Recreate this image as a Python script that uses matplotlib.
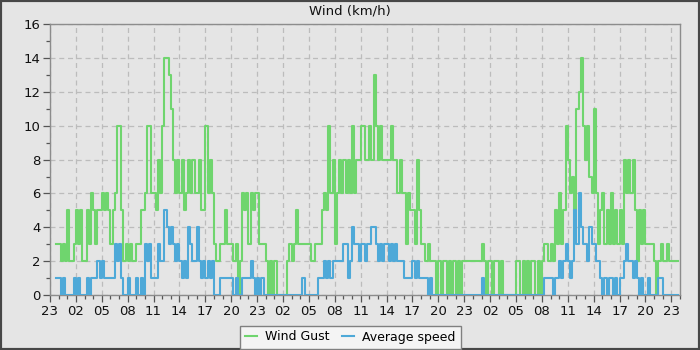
import numpy as np
import matplotlib
matplotlib.use('Agg')
import matplotlib.pyplot as plt
from matplotlib.patches import Rectangle

nan = np.nan

# Wind gust (km/h), 15-minute samples, starting 23:00 of day 1
gust = [
    nan, nan, nan, 3,   3, 2, 3, 2,   5, 2, 2, 3,   5, 3, 5, 2,
    2, 5, 3, 6,   5, 3, 5, 5,   6, 5, 6, 5,   3, 5, 6, 10,
    10, 5, 2, 3,   2, 3, 2, 2,   3, 3, 5, 5,   6, 10, 10, 6,
    6, 5, 8, 6,   10, 14, 14, 13,   11, 8, 6, 8,   6, 8, 5, 6,
    8, 6, 8, 6,   6, 8, 5, 5,   10, 6, 8, 6,   3, 2, 2, 3,
    3, 5, 3, 3,   3, 2, 3, 0,   2, 6, 5, 6,   3, 6, 5, 6,
    6, 3, 3, 3,   2, 0, 2, 0,   2, 0, 0, 0,   0, 0, 2, 3,
    2, 3, 5, 3,   3, 3, 3, 3,   3, 2, 2, 3,   3, 3, 5, 6,
    5, 10, 6, 8,   3, 6, 8, 6,   8, 6, 8, 6,   10, 6, 8, 8,
    10, 10, 8, 8,   10, 8, 13, 10,   8, 10, 8, 8,   8, 8, 10, 8,
    8, 6, 8, 6,   6, 3, 6, 5,   5, 3, 8, 5,   3, 3, 2, 3,
    2, 2, 2, 0,   2, 0, 2, 2,   0, 2, 0, 2,   0, 2, 0, 2,
    2, 2, 2, 2,   2, 2, 2, 2,   3, 2, 0, 2,   2, 0, 2, 2,
    0, 2, 0, 0,   0, 0, 0, 0,   2, 2, 0, 2,   0, 2, 0, 2,
    2, 0, 2, 0,   2, 3, 3, 2,   3, 2, 5, 3,   6, 3, 5, 10,
    8, 6, 7, 5,   11, 12, 14, 10,   8, 10, 7, 6,   11, 6, 3, 5,
    6, 3, 5, 3,   6, 3, 5, 3,   5, 3, 8, 6,   8, 6, 8, 5,
    2, 5, 3, 5,   3, 3, 3, 3,   2, 0, 2, 3,   2, 2, 3, 2,
    2, 2, 2, 2,
]

# Average wind speed (km/h), same sampling
avg = [
    nan, nan, nan, 1,   1, 0, 1, 0,   0, 0, 0, 1,   0, 1, 0, 0,
    0, 1, 0, 1,   1, 1, 2, 1,   2, 1, 1, 1,   1, 1, 3, 2,
    3, 1, 0, 0,   1, 0, 0, 0,   1, 0, 1, 0,   3, 2, 3, 1,
    1, 1, 3, 2,   2, 5, 4, 3,   4, 3, 2, 3,   2, 1, 2, 1,
    4, 3, 2, 2,   4, 2, 1, 2,   1, 2, 1, 2,   0, 0, 0, 1,
    1, 1, 1, 1,   1, 0, 1, 0,   0, 1, 1, 1,   1, 2, 1, 0,
    1, 0, 1, 0,   0, 0, 0, 0,   0, 0, 0, 0,   0, 0, 0, 0,
    0, 0, 0, 0,   0, 1, 0, 0,   0, 0, 0, 0,   1, 1, 1, 2,
    1, 2, 1, 2,   2, 2, 2, 2,   3, 3, 1, 2,   4, 3, 3, 2,
    3, 3, 2, 3,   3, 4, 4, 3,   2, 3, 2, 3,   3, 2, 3, 2,
    3, 2, 2, 2,   1, 1, 1, 1,   2, 1, 2, 1,   1, 1, 1, 0,
    1, 0, 0, 0,   0, 0, 0, 0,   0, 0, 0, 0,   0, 0, 0, 0,
    0, 0, 0, 0,   0, 0, 0, 0,   1, 0, 0, 0,   0, 0, 0, 0,
    0, 0, 0, 0,   0, 0, 0, 0,   0, 0, 0, 0,   0, 0, 0, 0,
    0, 0, 0, 0,   0, 1, 1, 1,   1, 0, 1, 1,   2, 1, 2, 3,
    2, 1, 2, 5,   3, 6, 4, 3,   3, 2, 4, 3,   3, 2, 2, 1,
    0, 1, 0, 1,   1, 0, 1, 0,   1, 1, 2, 3,   2, 2, 1, 2,
    1, 0, 1, 0,   0, 1, 0, 0,   0, 0, 1, 1,   0, 0, 0, 0,
    0, 0, 0, 0,
]

x_labels = ['23', '02', '05', '08', '11', '14', '17', '20'] * 3 + ['23']
samples_per_hour = 4
total_hours = 73

t = np.arange(len(gust)) / samples_per_hour

W, H = 700, 350
bg = '#e5e5e5'
fig = plt.figure(figsize=(W / 100, H / 100), dpi=100, facecolor=bg)
ax = fig.add_axes([50 / W, 55 / H, 630 / W, 270.7 / H])
ax.set_facecolor(bg)

green = '#6fd56e'
blue = '#4ea9d8'
ax.step(t, gust, where='post', color=green, lw=1.5, label='Wind Gust', zorder=3)
ax.step(t, avg, where='post', color=blue, lw=1.5, label='Average speed', zorder=4)

ax.set_xlim(0, total_hours)
ax.set_ylim(0, 16)
ax.set_xticks(np.arange(0, 73, 3))
ax.set_xticklabels(x_labels)
ax.set_xticks(np.arange(0, total_hours + 1, 1), minor=True)
ax.set_yticks(np.arange(0, 17, 2))
ax.set_yticks(np.arange(0, 17, 1), minor=True)

ax.grid(True, which='major', ls=(0, (4, 3)), color='#bcbcbc', lw=0.9, zorder=0)
ax.set_axisbelow(True)
for s in ax.spines.values():
    s.set_color('#8c8c8c')
    s.set_linewidth(1.0)
ax.tick_params(which='major', direction='out', length=5, width=0.9, color='#555555',
               labelsize=9.5, labelcolor='#111111', pad=2)
ax.tick_params(which='minor', direction='out', length=3, width=0.9, color='#555555')

fig.text(0.5, 1 - 11 / H, 'Wind (km/h)', ha='center', va='center', fontsize=9.5, color='#111111')

leg = fig.legend(loc='center', bbox_to_anchor=(350.5 / W, 1 - 337 / H), ncol=2,
                 frameon=True, fancybox=False, edgecolor='#808080', facecolor='#f4f4f4',
                 fontsize=9, handlelength=0.9, columnspacing=1.0, borderpad=0.4,
                 handletextpad=0.7, borderaxespad=0)
leg.get_frame().set_alpha(1)

fig.patches.append(Rectangle((0, 0), 1, 1, transform=fig.transFigure, fill=False,
                             edgecolor='#474747', lw=3))

fig.savefig('out.png', dpi=100, facecolor=bg)
